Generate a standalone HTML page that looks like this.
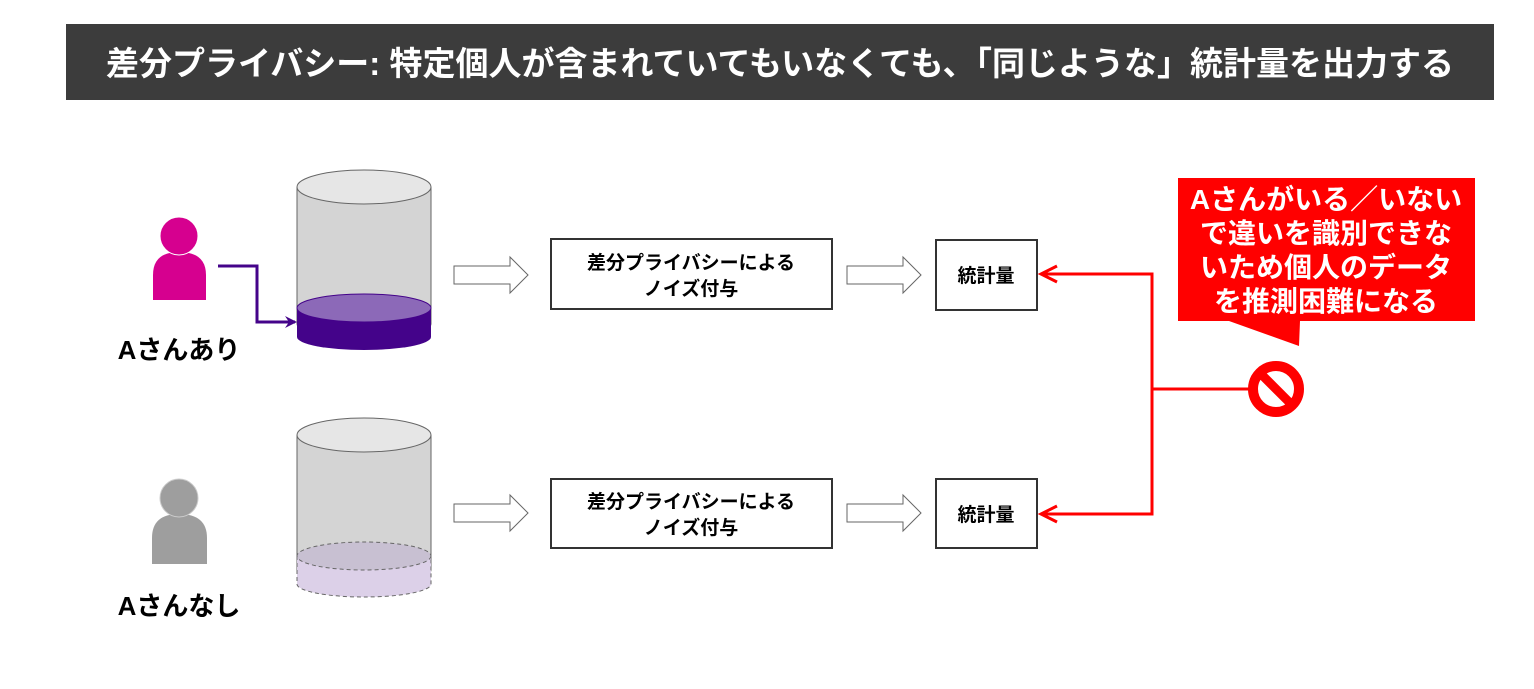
<!DOCTYPE html>
<html><head><meta charset="utf-8"><style>
html,body{margin:0;padding:0;background:#fff;}
svg text{font-family:"Liberation Sans","Noto Sans CJK JP",sans-serif;}
</style></head><body>
<svg width="1534" height="684" viewBox="0 0 1534 684" xmlns="http://www.w3.org/2000/svg">
<defs>
<marker id="ap" markerWidth="12" markerHeight="12" refX="10" refY="6" orient="auto" markerUnits="userSpaceOnUse"><path d="M0,0 L12,6 L0,12 L4,6 Z" fill="#44038a"/></marker>
</defs>
<rect x="66" y="24" width="1428" height="76" fill="#3c3c3c"/>
<text x="780" y="75" font-size="33" font-weight="bold" fill="#fff" text-anchor="middle">差分プライバシー: 特定個人が含まれていてもいなくても、「同じような」統計量を出力する</text>

<!-- person A -->
<path d="M153,300 L153,275 Q153,252 179,252 Q206,252 206,275 L206,300 Z" fill="#d6008f"/>
<circle cx="179" cy="236" r="19" fill="#d6008f" stroke="#fff" stroke-width="1"/>
<text x="179" y="359" font-size="26" font-weight="bold" text-anchor="middle">Aさんあり</text>
<!-- person gray -->
<path d="M152,564 L152,538 Q152,514 179,514 Q207,514 207,538 L207,564 Z" fill="#9e9e9e"/>
<circle cx="179" cy="498" r="19" fill="#9e9e9e" stroke="#ccc" stroke-width="1"/>
<text x="179" y="615" font-size="26" font-weight="bold" text-anchor="middle">Aさんなし</text>

<!-- cylinder 1 -->
<path d="M297,187 L297,324 A67,13 0 0 0 431,324 L431,187" fill="#d4d4d4" stroke="#666" stroke-width="1"/>
<ellipse cx="364" cy="187" rx="67" ry="17" fill="#e6e6e6" stroke="#666" stroke-width="1"/>
<path d="M297,308 L297,337 A67,13 0 0 0 431,337 L431,308 Z" fill="#44038a"/>
<ellipse cx="364" cy="308" rx="67" ry="14" fill="#8c69b8" stroke="#44038a" stroke-width="1"/>
<path d="M218,266 L257,266 L257,322 L295,322" fill="none" stroke="#44038a" stroke-width="3" marker-end="url(#ap)"/>

<!-- cylinder 2 -->
<path d="M297,435 L297,570 A67,13 0 0 0 431,570 L431,435" fill="#d4d4d4" stroke="#666" stroke-width="1"/>
<ellipse cx="364" cy="435" rx="67" ry="17" fill="#e6e6e6" stroke="#666" stroke-width="1"/>
<path d="M297,556 L297,584 A67,13 0 0 0 431,584 L431,556" fill="#dcd0e8" stroke="#666" stroke-width="1" stroke-dasharray="4,3"/>
<ellipse cx="364" cy="556" rx="67" ry="14" fill="#c8c0d2" stroke="#666" stroke-width="1" stroke-dasharray="4,3"/>

<!-- hollow arrows -->
<g fill="#fff" stroke="#666" stroke-width="1">
<path d="M454,266 L510,266 L510,257 L528,275 L510,293 L510,284 L454,284 Z"/>
<path d="M454,504 L510,504 L510,495 L528,513 L510,531 L510,522 L454,522 Z"/>
<path d="M847,266 L903,266 L903,257 L921,275 L903,293 L903,284 L847,284 Z"/>
<path d="M847,504 L903,504 L903,495 L921,513 L903,531 L903,522 L847,522 Z"/>
</g>

<!-- boxes -->
<g fill="#fff" stroke="#333" stroke-width="2">
<rect x="551" y="239" width="281" height="70"/>
<rect x="551" y="479" width="281" height="69"/>
<rect x="936" y="240" width="101" height="70"/>
<rect x="936" y="479" width="101" height="69"/>
</g>
<g font-size="19" font-weight="bold" text-anchor="middle">
<text x="691" y="269">差分プライバシーによる</text>
<text x="691" y="295">ノイズ付与</text>
<text x="691" y="508">差分プライバシーによる</text>
<text x="691" y="534">ノイズ付与</text>
<text x="986" y="282">統計量</text>
<text x="986" y="521">統計量</text>
</g>

<!-- red connectors -->
<path d="M1042,274 L1152,274 L1152,514 L1042,514" fill="none" stroke="#f00" stroke-width="3"/>
<path d="M1057,266 L1041,274 L1057,282 M1057,506 L1041,514 L1057,522" fill="none" stroke="#f00" stroke-width="3"/>
<path d="M1152,389 L1250,389" stroke="#f00" stroke-width="3"/>
<circle cx="1276" cy="389" r="23" fill="#fff" stroke="#f00" stroke-width="10"/>
<path d="M1262,375 L1290,403" stroke="#f00" stroke-width="9"/>

<!-- callout -->
<path d="M1178,178 L1475,178 L1475,321 L1300,321 L1299,346 L1229,321 L1178,321 Z" fill="#f00"/>
<g font-size="28" font-weight="bold" fill="#fff" text-anchor="middle">
<text x="1326" y="209">Aさんがいる／いない</text>
<text x="1326" y="243">で違いを識別できな</text>
<text x="1326" y="277">いため個人のデータ</text>
<text x="1326" y="311">を推測困難になる</text>
</g>
</svg>
</body></html>
